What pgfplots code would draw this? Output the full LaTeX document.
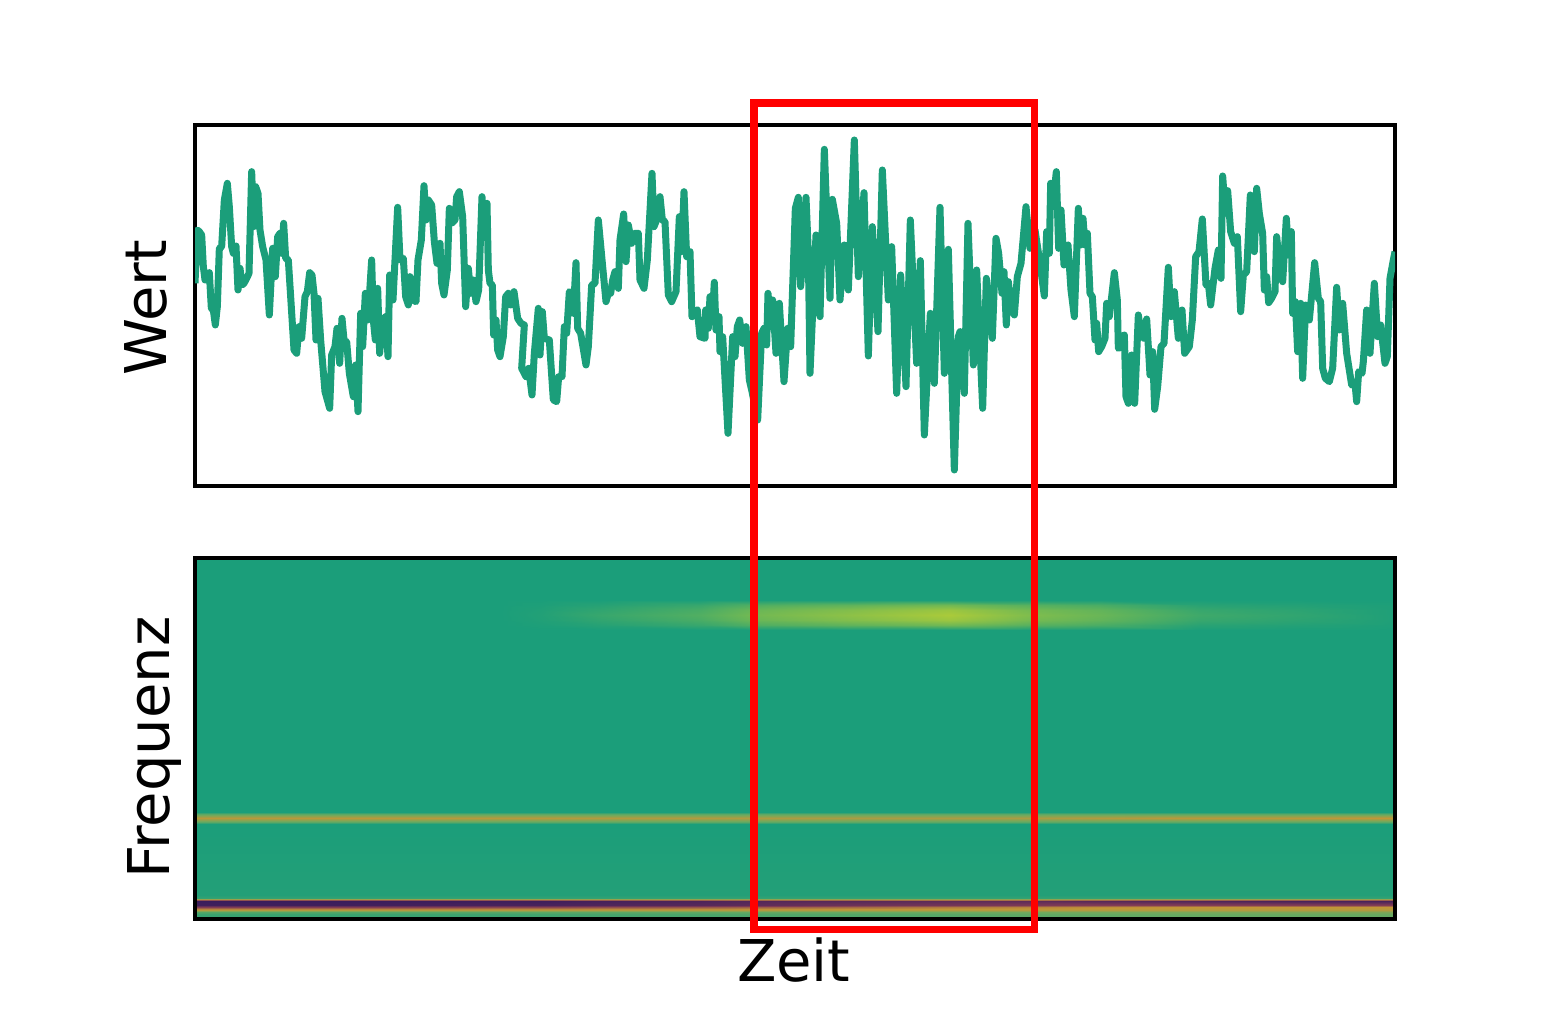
\documentclass[border=0pt]{standalone}
\usepackage{fontspec}
\setmainfont{DejaVu Sans}
\usepackage{pgfplots}
\pgfplotsset{compat=1.18}
\definecolor{linegreen}{RGB}{27,158,122}
\begin{document}
\begin{tikzpicture}
\path[use as bounding box] (0,0) rectangle (774pt,516pt);
\pgfplotsset{panel/.style={
  scale only axis, width=600pt, height=180.5pt,
  xtick=\empty, ytick=\empty,
  axis line style={black,line width=1.6pt},
  tick style={draw=none},
  label style={font=\fontsize{28.8}{32}\selectfont},
}}
\begin{axis}[panel, at={(97.5pt,273pt)}, anchor=south west,
  xmin=15, xmax=3615, ymin=15, ymax=1098, y dir=reverse,
  ylabel={Wert},
  ylabel style={at={(axis description cs:-0.041,0.494)},anchor=center},
]
\addplot[linegreen, line width=3.5pt, line join=round, no markers] coordinates {
(15,490)(22,330)(28,335)(35,345)(40,440)(45,480)(52,480)(58,458)(64,565)(70,570)(76,615)(82,560)(88,385)(95,380)(103,240)(112,190)(118,260)(125,380)(130,400)(138,378)(144,510)(150,445)(156,495)(162,490)(170,475)(177,460)(185,155)(191,320)(197,200)(204,220)(210,330)(218,380)(228,420)(238,585)(248,385)(256,470)(263,350)(270,340)(275,400)(281,310)(287,415)(295,420)(302,530)(312,690)(320,700)(327,620)(335,655)(345,530)(352,515)(359,458)(366,465)(372,520)(378,660)(384,535)(392,660)(405,815)(419,865)(425,705)(435,680)(441,625)(449,730)(456,595)(463,670)(470,665)(478,760)(490,830)(497,735)(504,875)(512,580)(518,680)(526,520)(533,600)(539,515)(545,420)(550,600)(556,660)(563,505)(569,700)(577,600)(587,590)(594,710)(599,465)(609,540)(614,440)(623,262)(630,420)(640,415)(647,530)(655,555)(660,470)(668,540)(678,545)(684,420)(694,360)(702,197)(708,300)(715,240)(725,255)(733,365)(741,430)(750,370)(755,490)(762,525)(772,450)(778,265)(785,310)(795,300)(800,230)(808,215)(818,290)(827,560)(835,445)(842,520)(850,480)(858,545)(866,510)(876,230)(882,320)(891,250)(895,450)(900,490)(907,495)(911,645)(918,600)(923,690)(930,710)(940,650)(947,530)(955,520)(962,555)(972,515)(983,595)(993,610)(1003,615)(995,745)(1008,770)(1016,745)(1026,825)(1033,700)(1045,565)(1050,705)(1057,575)(1063,655)(1078,660)(1090,840)(1100,845)(1106,770)(1116,770)(1123,620)(1130,640)(1138,515)(1145,520)(1150,580)(1158,428)(1163,625)(1172,640)(1188,735)(1195,680)(1205,495)(1215,490)(1225,300)
(1238,440)(1248,545)(1255,520)(1262,520)(1268,480)(1275,455)(1285,505)(1290,360)(1301,282)(1308,425)(1315,315)(1325,370)(1335,340)(1345,340)(1350,480)(1362,505)(1372,420)(1386,160)(1392,320)(1400,300)(1410,230)(1417,300)(1425,305)(1435,525)(1445,545)(1458,515)(1468,290)(1475,395)(1482,215)(1490,410)(1500,395)(1506,590)(1522,570)(1530,650)(1545,655)(1547,570)(1555,625)(1560,530)(1567,590)(1573,487)(1578,630)(1587,590)(1590,695)(1598,650)(1614,940)(1628,650)(1635,710)(1642,620)(1649,600)(1658,670)(1668,620)(1678,780)(1685,810)(1703,900)(1715,640)(1722,625)(1730,675)(1734,520)(1743,620)(1748,540)(1758,700)(1768,550)(1782,785)(1793,625)(1802,680)(1807,530)(1816,265)(1825,232)(1832,500)(1840,380)(1848,232)(1855,400)(1860,760)(1878,345)(1890,590)(1903,88)(1920,535)(1927,238)(1940,310)(1950,540)(1963,375)(1975,510)(1993,60)(2005,470)(2022,218)(2035,708)(2047,320)(2064,635)(2077,150)(2095,540)(2105,380)(2120,820)(2132,465)(2148,800)(2161,300)(2180,730)(2191,422)(2203,945)(2221,580)(2233,790)(2250,262)(2263,760)(2275,388)(2293,1050)(2305,650)(2310,635)(2323,820)(2334,310)(2350,735)(2360,450)(2378,865)(2389,475)
(2407,655)(2418,355)(2426,400)(2436,520)(2442,455)(2449,615)(2455,485)(2463,560)(2473,585)(2482,470)(2493,430)(2508,260)(2520,385)(2535,330)(2550,430)(2563,528)(2570,335)(2578,400)(2582,190)(2590,240)(2599,155)(2606,385)(2613,270)(2622,435)(2634,375)(2643,510)(2653,590)(2665,265)(2672,375)(2679,295)(2685,375)(2692,340)(2700,520)(2707,530)(2715,660)(2720,610)(2726,695)(2735,680)(2745,655)(2750,550)(2758,590)(2765,530)(2773,458)(2782,540)(2785,685)(2795,680)(2803,645)(2808,830)(2815,850)(2825,705)(2834,850)(2845,585)(2853,640)(2862,655)(2870,597)(2880,765)(2888,695)(2894,868)(2903,800)(2913,680)(2922,670)(2935,442)(2943,590)(2953,515)(2965,655)(2976,570)(2984,700)(2998,680)(3007,600)(3017,410)(3027,395)(3037,297)(3048,495)(3055,490)(3062,555)(3075,445)(3085,390)(3093,475)(3098,168)(3106,280)(3113,212)(3122,335)(3133,370)(3142,350)(3152,575)(3160,465)(3170,455)(3181,225)(3187,340)(3193,395)(3200,205)(3208,280)(3218,340)(3223,510)(3230,470)(3236,548)(3245,535)(3255,515)(3260,350)(3270,450)(3278,485)(3289,295)(3296,405)(3304,335)(3308,580)(3316,545)(3323,695)(3332,550)(3338,775)(3347,555)(3358,600)(3374,428)(3385,535)(3392,545)(3398,745)(3406,775)(3418,785)(3428,745)(3440,502)(3448,630)(3458,550)(3470,700)(3485,795)(3495,790)(3500,845)(3506,755)(3516,760)(3520,725)(3530,570)(3540,700)(3553,490)(3563,650)(3572,615)(3585,730)(3592,710)(3600,475)(3610,420)(3615,395)
};
\end{axis}
\begin{axis}[panel, at={(97.5pt,56.5pt)}, anchor=south west, clip=false,
  xmin=0, xmax=1200, ymin=0, ymax=361, view={0}{90},
  point meta min=0, point meta max=5,
  colormap={hm}{rgb255(0pt)=(58,28,92); rgb255(1pt)=(130,60,85); rgb255(2pt)=(195,150,55); rgb255(3pt)=(110,170,95); rgb255(4pt)=(27,158,122); rgb255(5pt)=(170,202,58)},
  xlabel={Zeit}, ylabel={Frequenz},
  xlabel style={at={(axis description cs:0.499,-0.114)},anchor=center},
  ylabel style={at={(axis description cs:-0.0335,0.475)},anchor=center},
]
\addplot3[surf, shader=interp, mesh/cols=14] coordinates {
(0,0,3.75)(155,0,3.75)(305,0,3.7)(345,0,3.65)(405,0,3.6)(505,0,3.55)(555,0,3.5)(655,0,3.45)(755,0,3.4)(835,0,3.3)(905,0,3.3)(1005,0,3.2)(1105,0,3.2)(1200,0,3.2)

(0,5,3.6)(155,5,3.6)(305,5,3.55)(345,5,3.5)(405,5,3.45)(505,5,3.4)(555,5,3.35)(655,5,3.3)(755,5,3.25)(835,5,3.15)(905,5,3.1)(1005,5,3.05)(1105,5,3.05)(1200,5,3.05)

(0,7,3.3)(155,7,3.3)(305,7,3.25)(345,7,3.2)(405,7,3.2)(505,7,3.15)(555,7,3.1)(655,7,3.05)(755,7,3.0)(835,7,2.95)(905,7,2.9)(1005,7,2.85)(1105,7,2.8)(1200,7,2.8)

(0,9,2.2)(155,9,2.2)(305,9,2.2)(345,9,2.2)(405,9,2.2)(505,9,2.2)(555,9,2.2)(655,9,2.2)(755,9,2.2)(835,9,2.2)(905,9,2.2)(1005,9,2.2)(1105,9,2.2)(1200,9,2.2)

(0,12,1.0)(155,12,1.0)(305,12,1.1)(345,12,1.1)(405,12,1.2)(505,12,1.3)(555,12,1.4)(655,12,1.5)(755,12,1.7)(835,12,1.8)(905,12,1.9)(1005,12,2.0)(1105,12,2.0)(1200,12,2.0)

(0,14,0.1)(155,14,0.1)(305,14,0.2)(345,14,0.2)(405,14,0.3)(505,14,0.4)(555,14,0.5)(655,14,0.7)(755,14,0.8)(835,14,0.9)(905,14,1.0)(1005,14,1.0)(1105,14,1.0)(1200,14,1.0)

(0,18,0.0)(155,18,0.0)(305,18,0.05)(345,18,0.05)(405,18,0.15)(505,18,0.25)(555,18,0.35)(655,18,0.4)(755,18,0.5)(835,18,0.5)(905,18,0.4)(1005,18,0.3)(1105,18,0.2)(1200,18,0.2)

(0,21,3.7)(155,21,3.7)(305,21,3.7)(345,21,3.7)(405,21,3.7)(505,21,3.7)(555,21,3.7)(655,21,3.7)(755,21,3.7)(835,21,3.7)(905,21,3.7)(1005,21,3.7)(1105,21,3.7)(1200,21,3.7)

(0,24,3.9)(155,24,3.9)(305,24,3.9)(345,24,3.9)(405,24,3.9)(505,24,3.9)(555,24,3.9)(655,24,3.9)(755,24,3.9)(835,24,3.9)(905,24,3.9)(1005,24,3.9)(1105,24,3.9)(1200,24,3.9)

(0,95,4)(155,95,4)(305,95,4)(345,95,4)(405,95,4)(505,95,4)(555,95,4)(655,95,4)(755,95,4)(835,95,4)(905,95,4)(1005,95,4)(1105,95,4)(1200,95,4)

(0,97,3.2)(155,97,3.2)(305,97,3.2)(345,97,3.2)(405,97,3.2)(505,97,3.2)(555,97,3.2)(655,97,3.2)(755,97,3.2)(835,97,3.2)(905,97,3.2)(1005,97,3.2)(1105,97,3.2)(1200,97,3.2)

(0,101,2.1)(155,101,2.1)(305,101,2.15)(345,101,2.15)(405,101,2.2)(505,101,2.2)(555,101,2.25)(655,101,2.3)(755,101,2.3)(835,101,2.3)(905,101,2.2)(1005,101,2.1)(1105,101,2.1)(1200,101,2.0)

(0,105,3.2)(155,105,3.2)(305,105,3.2)(345,105,3.2)(405,105,3.2)(505,105,3.2)(555,105,3.2)(655,105,3.2)(755,105,3.2)(835,105,3.2)(905,105,3.2)(1005,105,3.2)(1105,105,3.2)(1200,105,3.2)

(0,107,4)(155,107,4)(305,107,4)(345,107,4)(405,107,4)(505,107,4)(555,107,4)(655,107,4)(755,107,4)(835,107,4)(905,107,4)(1005,107,4)(1105,107,4)(1200,107,4)

(0,289,4)(155,289,4)(305,289,4)(345,289,4)(405,289,4)(505,289,4)(555,289,4)(655,289,4)(755,289,4)(835,289,4)(905,289,4)(1005,289,4)(1105,289,4)(1200,289,4)

(0,294,4)(155,294,4)(305,294,4)(345,294,4.02)(405,294,4.08)(505,294,4.2)(555,294,4.36)(655,294,4.48)(755,294,4.6)(835,294,4.42)(905,294,4.33)(1005,294,4.1)(1105,294,4.06)(1200,294,4.02)

(0,299,4)(155,299,4)(305,299,4)(345,299,4.04)(405,299,4.15)(505,299,4.32)(555,299,4.54)(655,299,4.72)(755,299,4.9)(835,299,4.63)(905,299,4.5)(1005,299,4.2)(1105,299,4.12)(1200,299,4.03)

(0,304,4)(155,304,4)(305,304,4)(345,304,4.05)(405,304,4.2)(505,304,4.38)(555,304,4.6)(655,304,4.8)(755,304,5)(835,304,4.7)(905,304,4.55)(1005,304,4.25)(1105,304,4.15)(1200,304,4.03)

(0,309,4)(155,309,4)(305,309,4)(345,309,4.04)(405,309,4.15)(505,309,4.32)(555,309,4.54)(655,309,4.72)(755,309,4.9)(835,309,4.63)(905,309,4.5)(1005,309,4.2)(1105,309,4.12)(1200,309,4.03)

(0,314,4)(155,314,4)(305,314,4)(345,314,4.02)(405,314,4.08)(505,314,4.2)(555,314,4.36)(655,314,4.48)(755,314,4.6)(835,314,4.42)(905,314,4.33)(1005,314,4.1)(1105,314,4.06)(1200,314,4.02)

(0,319,4)(155,319,4)(305,319,4)(345,319,4)(405,319,4)(505,319,4)(555,319,4)(655,319,4)(755,319,4)(835,319,4)(905,319,4)(1005,319,4)(1105,319,4)(1200,319,4)

(0,361,4)(155,361,4)(305,361,4)(345,361,4)(405,361,4)(505,361,4)(555,361,4)(655,361,4)(755,361,4)(835,361,4)(905,361,4)(1005,361,4)(1105,361,4)(1200,361,4)
};
\draw[black, line width=1.6pt] (rel axis cs:0,0,0) rectangle (rel axis cs:1,1,0);
\end{axis}
\draw[red, line width=3.7pt, line join=miter] (377pt,51.2pt) rectangle (517.2pt,464.5pt);
\end{tikzpicture}
\end{document}
